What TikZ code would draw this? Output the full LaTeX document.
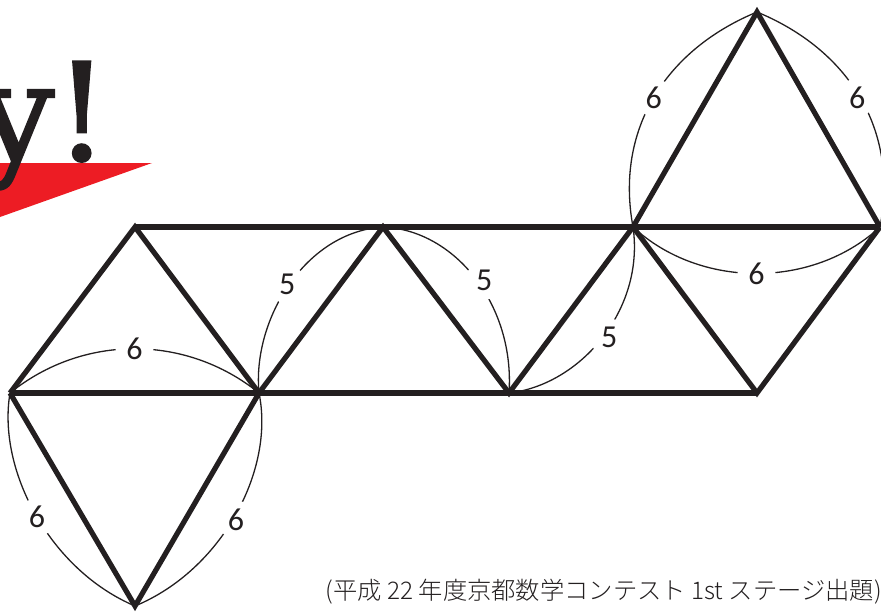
\documentclass[tikz,border=0pt]{standalone}
\usepackage{fontspec}
\newfontfamily\jpfont{Noto Sans CJK JP Light}
\newfontfamily\numfont{Carlito}
\newfontfamily\titlefont[FakeBold=1.6]{DejaVu Serif}
\definecolor{ink}{HTML}{231F20}
\definecolor{redband}{HTML}{ED1C24}
\tikzset{
  thickedge/.style={draw=ink,line width=5.2pt,miter limit=10},
  thinarc/.style={draw=ink,line width=1.3pt},
  dim/.style={circle,fill=white,minimum size=38pt,inner sep=0pt,text=ink,font=\numfont\fontsize{32}{32}\selectfont},
}
\begin{document}
\begin{tikzpicture}[x=1pt,y=-1pt]
\useasboundingbox (0,0) rectangle (881,611);
\fill[redband] (0,163) -- (152,163) -- (0,217) -- cycle;
\node[anchor=base east,inner sep=0pt,text=ink,font=\titlefont\fontsize{135}{135}\selectfont] (title) at (109,160) {y!};
\coordinate (A) at (10,393);
\coordinate (B) at (135,227);
\coordinate (C) at (259,393);
\coordinate (D) at (383,227);
\coordinate (E) at (509,393);
\coordinate (F) at (633,227);
\coordinate (G) at (757,393);
\coordinate (H) at (880,227);
\coordinate (I) at (757,12);
\coordinate (J) at (135,606);
\draw[thinarc] (A) .. controls (83,334) and (186,334) .. node[dim,pos=.5] (n1) {6} (C);
\draw[thinarc] (A) .. controls (-3,470) and (50,570) .. node[dim,pos=.51] (n2) {6} (J);
\draw[thinarc] (C) .. controls (275,470) and (222,570) .. node[dim,pos=.52,xshift=3pt] (n3) {6} (J);
\draw[thinarc] (C) .. controls (252,320) and (305,232) .. node[dim,pos=.5,xshift=-2pt] (n4) {5} (D);
\draw[thinarc] (D) .. controls (455,230) and (515,305) .. node[dim,pos=.53,xshift=5pt,yshift=3pt] (n5) {5} (E);
\draw[thinarc] (E) .. controls (580,385) and (645,310) .. node[dim,pos=.53,xshift=3pt,yshift=-5pt] (n6) {5} (F);
\draw[thinarc] (F) .. controls (615,130) and (665,50) .. node[dim,pos=.5] (n7) {6} (I);
\draw[thinarc] (H) .. controls (899,130) and (849,50) .. node[dim,pos=.5,xshift=-3pt] (n8) {6} (I);
\draw[thinarc] (F) .. controls (700,289) and (813,289) .. node[dim,pos=.5] (n9) {6} (H);
\draw[thickedge] (A) -- (B) -- (C) -- (D) -- (E) -- (F) -- (G) -- (H);
\draw[thickedge] (B) -- (H);
\draw[thickedge] (A) -- (G);
\draw[thickedge] (F) -- (I) -- (H);
\draw[thickedge] (A) -- (J) -- (C);
\node[anchor=east,inner sep=0pt,text=ink,font=\jpfont\fontsize{24.3}{24.3}\selectfont] (note) at (882,592) {(平成 22 年度京都数学コンテスト 1st ステージ出題)};
\end{tikzpicture}
\end{document}
